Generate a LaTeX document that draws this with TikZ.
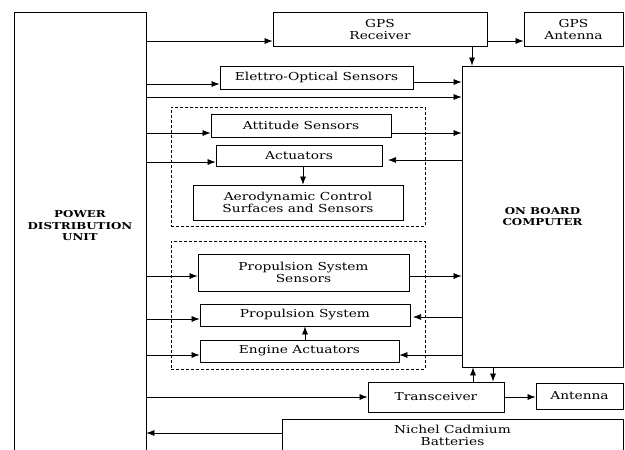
\documentclass[tikz,border=0pt]{standalone}
\usepackage{fontspec}
\setmainfont{DejaVu Serif}[FakeStretch=1.25]
\usetikzlibrary{arrows.meta}
\begin{document}
\begin{tikzpicture}[x=1pt,y=-1pt,
  box/.style={draw, line width=0.8pt, inner sep=0pt, align=center,
    font=\fontsize{11}{12}\selectfont},
  txt/.style={inner sep=0pt, align=center, font=\fontsize{11}{12}\selectfont},
  btxt/.style={inner sep=0pt, align=center, font=\fontsize{9.5}{11.5}\selectfont\bfseries},
  dbox/.style={draw, dash pattern=on 3pt off 2pt, line width=0.7pt, inner sep=0pt},
  arr/.style={-{Latex[length=8pt,width=6pt]}, line width=0.7pt}]
\useasboundingbox (0,0) rectangle (625,450);
% boxes
\node[box, minimum width=132pt, minimum height=448pt] (pdu) at (80,236) {};
\node[btxt] (pdut) at (80,226) {POWER\\DISTRIBUTION\\UNIT};
\node[box, minimum width=214pt, minimum height=34pt] (gpsr) at (380,29) {GPS\\Receiver};
\node[box, minimum width=99pt, minimum height=34pt] (gpsa) at (573.5,29) {GPS\\Antenna};
\node[box, minimum width=161pt, minimum height=301pt, font=\fontsize{9.5}{11.5}\selectfont\bfseries] (obc) at (542.5,216.5) {ON BOARD\\COMPUTER};
\node[box, minimum width=193pt, minimum height=23pt] (eos) at (316.5,77.5) {Elettro-Optical Sensors};
\node[dbox, minimum width=254pt, minimum height=119pt] (g1) at (298,166.5) {};
\node[box, minimum width=180pt, minimum height=23pt] (att) at (301,125.5) {Attitude Sensors};
\node[box, minimum width=166pt, minimum height=21pt] (act) at (299,155.5) {Actuators};
\node[box, minimum width=210pt, minimum height=35pt] (aero) at (298,202.5) {Aerodynamic Control\\Surfaces and Sensors};
\node[dbox, minimum width=254pt, minimum height=128pt] (g2) at (298,305) {};
\node[box, minimum width=211pt, minimum height=37pt] (pss) at (303.5,272.5) {Propulsion System\\Sensors};
\node[box, minimum width=210pt, minimum height=22pt] (ps) at (305,315) {Propulsion System};
\node[box, minimum width=199pt, minimum height=22pt] (ea) at (299.5,351) {Engine Actuators};
\node[box, minimum width=136pt, minimum height=30pt] (trx) at (436,397) {Transceiver};
\node[box, minimum width=87pt, minimum height=26pt] (ant) at (579.5,396) {Antenna};
\node[box, minimum width=341pt, minimum height=61pt] (bat) at (452.5,449.5) {};
\node[txt] (batt) at (452.5,435) {Nichel Cadmium\\Batteries};
% free ends
\coordinate (actin) at (388,160);
\coordinate (psin) at (413,317);
% connectors
\draw[arr] (pdu.east |- 0,41) -- (gpsr.west |- 0,41);
\draw[arr] (gpsr.east |- 0,41) -- (gpsa.west |- 0,41);
\draw[arr] (gpsr.south -| 472,0) -- (obc.north -| 472,0);
\draw[arr] (pdu.east |- 0,84) -- (eos.west |- 0,84);
\draw[arr] (eos.east |- 0,82) -- (obc.west |- 0,82);
\draw[arr] (pdu.east |- 0,97) -- (obc.west |- 0,97);
\draw[arr] (pdu.east |- 0,133) -- (att.west |- 0,133);
\draw[arr] (att.east |- 0,133) -- (obc.west |- 0,133);
\draw[arr] (pdu.east |- 0,162) -- (act.west |- 0,162);
\draw[arr] (obc.west |- actin) -- (actin);
\draw[arr] (act.south -| 303,0) -- (aero.north -| 303,0);
\draw[arr] (pdu.east |- 0,276) -- (pss.west |- 0,276);
\draw[arr] (pss.east |- 0,276) -- (obc.west |- 0,276);
\draw[arr] (pdu.east |- 0,319) -- (ps.west |- 0,319);
\draw[arr] (obc.west |- psin) -- (psin);
\draw[arr] (pdu.east |- 0,355) -- (ea.west |- 0,355);
\draw[arr] (obc.west |- 0,355) -- (ea.east |- 0,355);
\draw[arr] (ea.north -| 305,0) -- (ps.south -| 305,0);
\draw[arr] (pdu.east |- trx.west) -- (trx.west);
\draw[arr] (trx.north -| 473,0) -- (obc.south -| 473,0);
\draw[arr] (obc.south -| 493,0) -- (trx.north -| 493,0);
\draw[arr] (trx.east) -- (ant.west |- trx.east);
\draw[arr] (bat.west |- 0,433) -- (pdu.east |- 0,433);
\end{tikzpicture}
\end{document}
